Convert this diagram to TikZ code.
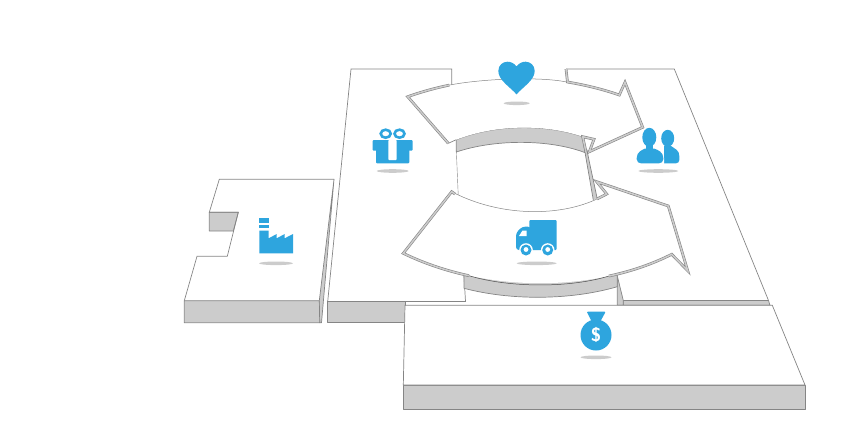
\documentclass[tikz,border=0pt]{standalone}
\usepackage{xcolor}
\definecolor{iconblue}{HTML}{2EA5DE}
\definecolor{sidegray}{HTML}{CCCCCC}
\definecolor{edgegray}{HTML}{858585}
\tikzset{
	face/.style={draw=edgegray, fill=white, line width=.7pt},
	edgeline/.style={draw=edgegray, line width=.7pt},
	side/.style={draw=edgegray, fill=sidegray, line width=.7pt, line join=round},
	rim/.style={draw=edgegray, line width=.6pt, double=sidegray, double distance=1.5pt, line join=miter},
	icon/.style={fill=iconblue, draw=none},
	gap/.style={fill=white, draw=none},
	shade/.style={fill=sidegray, draw=none}
}
\begin{document}
\begin{tikzpicture}[x=1pt, y=-1pt]
		\useasboundingbox (0,0) rectangle (862,437);

		% customer block
		\path[side] (623.3,300.5) -- (768.5,300.5) -- (770,305.3) -- (623.3,305.3) -- cycle;
		\path[side] (617.3,276) -- (623.3,300.5) -- (623.3,305.3) -- (617.3,305.3) -- cycle;
		\path[edgeline] (566,69) -- (674.3,69) -- (768.5,300.5);

		% partner block
		\path[side] (327.7,301.5) -- (405,301.5) -- (405,322.7) -- (327.7,322.7) -- cycle;
		\path[edgeline] (327.7,301.5) -- (351,69) -- (451.7,69) -- (451.7,85);
		\path[edgeline] (327.7,301.5) -- (465.5,301.5) -- (464,276);
		\path[draw=edgegray, line width=.4pt] (456.3,150) -- (458.3,197);

		% factory block
		\path[side] (334,179.3) -- (319.3,300.7) -- (319.7,322.7) -- (321.5,322.7) -- cycle;
		\path[side] (184.3,300.7) -- (319.3,300.7) -- (319.7,322.7) -- (184.3,322.7) -- cycle;
		\path[side] (209.3,212.3) -- (238.3,212.3) -- (233.3,231) -- (209.3,231) -- cycle;
		\path[edgeline] (184.3,300.7) -- (197,256.3) -- (227.3,256.3) -- (238.3,212.3) -- (209.3,212.3) -- (219.3,179.3) -- (334,179.3);

		% gray bands below the arrows
		\path[side] (456.3,139.7) .. controls (495,124.5) and (545,123.8) .. (582.7,136.7) -- (586,153) .. controls (550,139) and (495,139) .. (456.3,152) -- cycle;
		\path[side] (464,270) -- (617.3,270) -- (617.3,286.7) .. controls (570,300.5) and (510,300.5) .. (464,288.3) -- cycle;
		\path[side] (584,146.7) -- (593.3,200) -- (597.3,199) -- (589.3,161.7) -- (587,150) -- cycle;

		% heart arrow
		\path[gap] (407.7,96.7) .. controls (475,72.5) and (555,72.5) .. (619.3,95) -- (625,82.3) -- (642.7,127.3) -- (589.3,151.7) -- (594,139.3) -- (582.7,136.7) .. controls (545,123.8) and (495,124.5) .. (456.3,139.7) -- (448.3,143.3) -- cycle;
		\path[draw=edgegray, line width=.5pt] (449.4,85.1) .. controls (480,79) and (540,76) .. (568.6,82.4);
		\path[rim] (449.4,85.1) .. controls (435.2,88) and (421.2,91.9) .. (407.7,96.7) -- (448.3,143.3);
		\path[edgeline] (448.3,143.3) -- (456.3,139.7);
		\path[rim] (566,69) -- (567.5,82) .. controls (586.2,85.2) and (603.2,89.4) .. (619.3,95) -- (625,82.3) -- (642.7,127.3) -- (589.3,151.7) -- (594,139.3) -- (582.7,136.7) -- (586,152);

		% truck arrow
		\path[gap] (451.7,191.7) .. controls (500,217) and (560,217) .. (606.7,194) -- (596.7,181.7) -- (668.3,206) -- (687.7,270.7) -- (671.7,254.3) .. controls (595,293) and (485,293) .. (403.3,253.3) -- cycle;
		\path[draw=edgegray, line width=.5pt] (451.7,191.7) .. controls (500,217) and (560,217) .. (598,198.5);
		\path[draw=black!70, line width=.5pt] (469,275.7) .. controls (510,288) and (570,288) .. (609,276);
		\path[rim] (455,194) -- (451.7,191.7) -- (403.3,253.3) .. controls (423.7,263.2) and (445.9,270.7) .. (469,275.7);
		\path[rim] (609,276) .. controls (631.3,271.3) and (652.5,264) .. (671.7,254.3) -- (687.7,270.7) -- (668.3,206) -- (596.7,181.7) -- (606.7,194) -- (597,199);

		% cost block
		\path[side] (403.3,385) -- (805,385) -- (805,409) -- (403.3,409) -- cycle;
		\path[face] (405,305.3) -- (772.3,305.3) -- (805,385) -- (403.3,385) -- cycle;

		% heart
		\path[icon] (516.5,94.3) .. controls (510,87) and (498.3,80) .. (498.3,71) .. controls (498.3,65) and (503,61.7) .. (507.5,61.7) .. controls (511,61.7) and (514.5,63.5) .. (516.5,66.5) .. controls (518.5,63.5) and (522,61.7) .. (525.5,61.7) .. controls (530,61.7) and (534.7,65) .. (534.7,71) .. controls (534.7,80) and (523,87) .. (516.5,94.3) -- cycle;
		\path[shade] (516.7,103.3) ellipse (13 and 1.8);

		% gift
		\path[draw=iconblue, line width=2.6pt] (385.7,133.7) ellipse (5 and 4);
		\path[draw=iconblue, line width=2.6pt] (399.5,133.7) ellipse (5 and 4);
		\path[icon, rounded corners=1pt] (372.7,140) rectangle (412.7,150.7);
		\path[icon, rounded corners=1pt] (376,148) rectangle (409.3,163.3);
		\path[gap, rounded corners=.8pt] (388.3,140) rectangle (396.7,160);
		\path[shade] (392.7,171) ellipse (16 and 1.8);

		% people
		\path[icon] (667.7,138.3) ellipse (6.5 and 8.5);
		\path[icon] (664,146) -- (671,146) .. controls (675,149) and (679.3,150) .. (679.3,156) -- (679.3,160) .. controls (679.3,162) and (678,163.3) .. (676,163.3) -- (664,163.3) -- cycle;
		\path[draw=white, line width=1.4pt, fill=white] (636.7,158) .. controls (636.7,152) and (642,150) .. (645,148.5) -- (654,148.5) .. controls (658,150) and (663.3,152) .. (663.3,158) -- (663.3,163.3) -- (636.7,163.3) -- cycle;
		\path[icon] (649.3,137.3) ellipse (7 and 9.5);
		\path[icon] (646,144) rectangle (653,150);
		\path[icon] (636.7,158) .. controls (636.7,152) and (642,150) .. (645,148.5) -- (654,148.5) .. controls (658,150) and (663.3,152) .. (663.3,158) -- (663.3,159.3) .. controls (663.3,162) and (661,163.3) .. (659,163.3) -- (641,163.3) .. controls (639,163.3) and (636.7,162) .. (636.7,159.3) -- cycle;
		\path[shade] (658.3,171) ellipse (20 and 1.8);

		% truck
		\path[icon, rounded corners=1pt] (529.3,220) rectangle (556.7,250);
		\path[icon, rounded corners=3pt] (516,250) -- (516,233) -- (522,226.7) -- (531,226.7) -- (531,250) -- cycle;
		\path[gap] (519,236) -- (522.5,230.5) -- (526.5,230.5) -- (526.5,236) -- cycle;
		\path[gap] (526,250) circle (6.8);
		\path[gap] (547.7,250) circle (6.8);
		\path[icon] (526,250) circle (5.5);
		\path[icon] (547.7,250) circle (5.5);
		\path[gap] (526,249.5) circle (2.4);
		\path[gap] (547.7,249.5) circle (2.4);
		\path[shade] (536.7,263.3) ellipse (20 and 1.8);

		% factory
		\path[icon] (259.3,218.3) rectangle (268.7,222.5);
		\path[icon] (259.3,224.5) rectangle (268.7,228.3);
		\path[icon] (259.3,230.5) -- (268.7,230.5) -- (268.7,238.3) -- (276.7,234) -- (276.7,238.3) -- (284.7,234) -- (284.7,238.3) -- (293,234) -- (293,253.3) -- (259.3,253.3) -- cycle;
		\path[shade] (276,263.3) ellipse (17 and 1.8);

		% money bag
		\path[icon, rounded corners=1pt] (586.7,311.7) -- (605.7,311.7) -- (600,322) -- (592,322) -- cycle;
		\path[icon] (596,335) circle (15.5);
		\node[text=white, font=\sffamily\bfseries\fontsize{19}{19}\selectfont, inner sep=0pt] (dollar) at (596,335) {\$};
		\path[shade] (596,357.3) ellipse (15.5 and 1.8);
\end{tikzpicture}
\end{document}
